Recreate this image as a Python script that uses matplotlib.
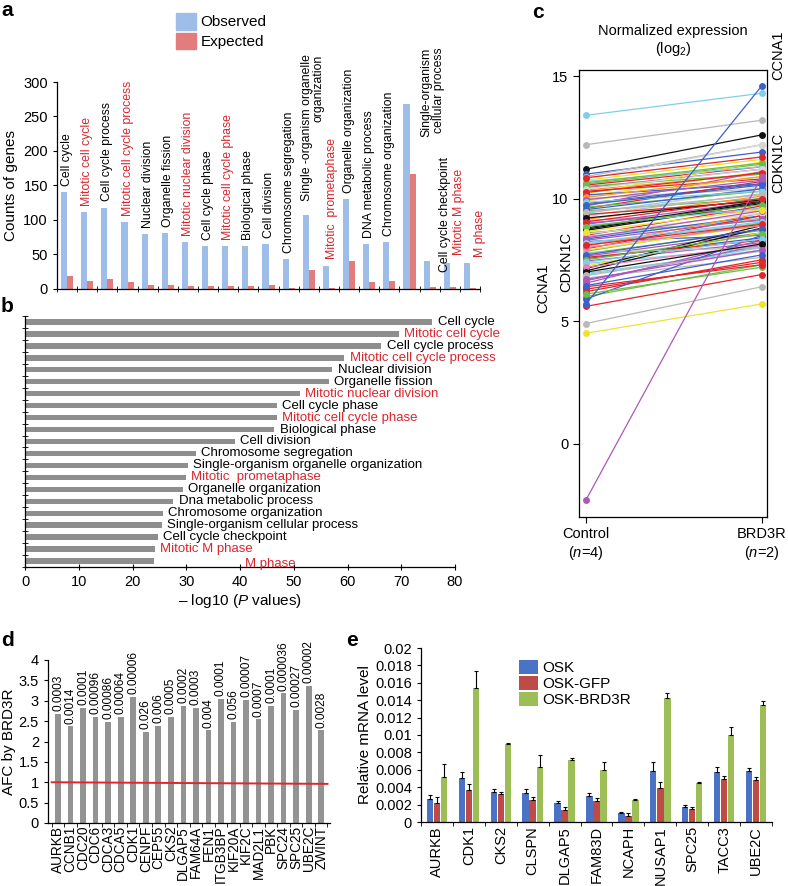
import matplotlib
matplotlib.use('Agg')
import matplotlib.pyplot as plt
from matplotlib.patches import Patch
from matplotlib.ticker import FuncFormatter
import numpy as np

plt.rcParams['font.family'] = ['Liberation Sans', 'DejaVu Sans']
plt.rcParams['mathtext.fontset'] = 'custom'
plt.rcParams['mathtext.rm'] = 'Liberation Sans'
plt.rcParams['mathtext.it'] = 'Liberation Sans:italic'
plt.rcParams['axes.linewidth'] = 0.9

W, H = 788, 886

# ---------------- data ----------------
# panel a / b : GO terms
go_terms_a = ['Cell cycle', 'Mitotic cell cycle', 'Cell cycle process', 'Mitotic cell cycle process',
              'Nuclear division', 'Organelle fission', 'Mitotic nuclear division', 'Cell cycle phase',
              'Mitotic cell cycle phase', 'Biological phase', 'Cell division', 'Chromosome segregation',
              'Single -organism organelle\norganization', 'Mitotic  prometaphase', 'Organelle organization',
              'DNA metabolic process', 'Chromosome organization', 'Single-organism\ncellular process',
              'Cell cycle checkpoint', 'Mitotic M phase', 'M phase']
go_terms_b = ['Cell cycle', 'Mitotic cell cycle', 'Cell cycle process', 'Mitotic cell cycle process',
              'Nuclear division', 'Organelle fission', 'Mitotic nuclear division', 'Cell cycle phase',
              'Mitotic cell cycle phase', 'Biological phase', 'Cell division', 'Chromosome segregation',
              'Single-organism organelle organization', 'Mitotic  prometaphase', 'Organelle organization',
              'Dna metabolic process', 'Chromosome organization', 'Single-organism cellular process',
              'Cell cycle checkpoint', 'Mitotic M phase', 'M phase']
is_mitotic = [0, 1, 0, 1, 0, 0, 1, 0, 1, 0, 0, 0, 0, 1, 0, 0, 0, 0, 0, 1, 1]
observed = [140, 111, 118, 97, 80, 81, 68, 62, 62, 62, 65, 43, 107, 34, 130, 65, 68, 268, 40, 38, 38]
expected = [19, 11, 14, 10, 6, 6, 4, 4, 4, 4, 6, 2, 27, 1, 40, 10, 12, 167, 3, 3, 2]
neglog_p = [75.8, 69.5, 66.3, 59.4, 57.2, 56.5, 51.1, 46.8, 46.8, 46.4, 39.0, 31.8, 30.3, 29.9,
            29.4, 27.6, 25.6, 25.4, 24.7, 24.2, 24.0]

# panel c : normalized expression (log2), control vs BRD3R
c_control = [13.4, 12.2, 11.2, 11.0, 10.9, 10.8, 10.6, 10.55, 10.45, 10.35, 10.2, 10.1, 10.0, 10.5,
             10.3, 9.8, 9.7, 9.6, 9.5, 9.4, 9.3, 9.25, 9.1, 9.0, 8.95, 8.8, 8.7, 8.6, 8.5, 8.45,
             8.35, 8.25, 8.15, 8.05, 7.95, 7.85, 7.75, 7.65, 7.55, 7.45, 7.35, 7.25, 7.15, 7.05,
             6.95, 6.85, 6.75, 6.65, 6.55, 6.3, 6.2, 6.0, 5.9, 5.6, 4.9, 4.5, 8.75, 9.9, 9.15,
             8.9, 9.35, 9.65, 9.55, 8.55, 7.9, 8.4, 7.6, 6.1, 10.7, 7.8, 8.0, 10.15, 6.4,
             10.75, 10.65, 10.4, 10.25, 10.05, 9.95, 9.85, 9.75, 9.45, 9.2, 9.05, 8.85, 8.65,
             8.3, 8.2, 8.1, 7.7, 7.5, 7.4, 7.2, 7.0, 6.9, 6.7, 6.45, 10.85,
             5.7, -2.3]
c_brd3r = [14.3, 13.2, 12.6, 11.9, 12.2, 12.2, 11.4, 11.3, 11.2, 11.0, 11.5, 11.1, 10.4, 11.0,
           10.8, 10.6, 11.1, 10.7, 10.0, 10.4, 10.2, 10.5, 9.5, 9.6, 9.9, 9.9, 9.8, 9.1, 9.7, 9.2,
           9.3, 8.5, 9.0, 9.4, 9.3, 9.0, 8.7, 8.6, 8.4, 8.2, 8.0, 8.6, 8.9, 8.8,
           7.9, 8.0, 7.6, 8.1, 8.3, 7.4, 7.5, 7.3, 8.5, 6.9, 6.4, 5.7, 9.85, 10.9, 10.1,
           9.6, 9.9, 10.3, 10.4, 9.4, 8.9, 9.5, 8.3, 7.2, 11.3, 8.0, 8.9, 10.6, 7.3,
           11.6, 11.45, 11.2, 11.05, 10.9, 10.75, 10.3, 10.55, 10.15, 9.95, 10.0, 9.75, 9.55,
           9.15, 9.05, 8.95, 8.75, 8.55, 8.35, 8.1, 8.15, 7.85, 7.9, 7.7, 11.7,
           14.6, 10.9]
c_color_keys = ['c', 'gr', 'k', 'b', 'gr', 'lg', 'g', 'r', 'm', 'o', 'y', 'y', 'gr', 'g',
                'r', 'b', 'm', 'r', 'g', 'c', 'gr', 'lg', 'p', 'm', 'm', 'k', 'k', 'g', 'r', 'c',
                'b', 'b', 'c', 'o', 'r', 'g', 'g', 'm', 'b', 'm', 'c', 'y', 'k', 'k',
                'c', 'c', 'gr', 'm', 'm', 'r', 'r', 'g', 'b', 'r', 'gr', 'y', 'k', 'y', 'o',
                'c', 'r', 'g', 'b', 'lg', 'y', 'm', 'r', 'g', 'c', 'gr', 'p', 'b', 'r',
                'y', 'g', 'lg', 'r', 'o', 'm', 'c', 'b', 'gr', 'k', 'r', 'g', 'y',
                'm', 'c', 'r', 'b', 'g', 'c', 'p', 'k', 'gr', 'm', 'b', 'r',
                'b', 'm']
c_groups = ['Control\n($\\it{n}$=4)', 'BRD3R\n($\\it{n}$=2)']

# panel d : AFC by BRD3R
d_genes = ['AURKB', 'CCNB1', 'CDC20', 'CDC6', 'CDCA3', 'CDCA5', 'CDK1', 'CENPF', 'CEP55', 'CKS2',
           'DLGAP5', 'FAM64A', 'FEN1', 'ITGB3BP', 'KIF20A', 'KIF2C', 'MAD2L1', 'PBK', 'SPC24',
           'SPC25', 'UBE2C', 'ZWINT']
d_afc = [2.67, 2.37, 2.82, 2.60, 2.47, 2.61, 3.10, 2.23, 2.39, 2.60, 2.87, 2.82, 2.27, 3.04,
         2.49, 3.01, 2.54, 2.88, 3.18, 2.78, 3.36, 2.27]
d_pvals = ['0.0003', '0.0014', '0.0001', '0.00096', '0.00086', '0.00064', '0.00006', '0.026',
           '0.006', '0.0005', '0.0002', '0.0003', '0.004', '0.0001', '0.056', '0.00007', '0.0007',
           '0.0001', '0.000036', '0.00027', '0.00002', '0.0028']
d_ref_line = [1.0, 0.96]

# panel e : relative mRNA level
e_genes = ['AURKB', 'CDK1', 'CKS2', 'CLSPN', 'DLGAP5', 'FAM83D', 'NCAPH', 'NUSAP1', 'SPC25',
           'TACC3', 'UBE2C']
e_osk = [0.0026, 0.0051, 0.0034, 0.0033, 0.0022, 0.0030, 0.0010, 0.0059, 0.0017, 0.0058, 0.0059]
e_osk_err = [0.0005, 0.0007, 0.0004, 0.0005, 0.0002, 0.0003, 0.0002, 0.0010, 0.0002, 0.0005, 0.0003]
e_gfp = [0.0022, 0.0037, 0.0032, 0.0025, 0.0014, 0.0024, 0.0007, 0.0039, 0.0015, 0.0049, 0.0048]
e_gfp_err = [0.0007, 0.0007, 0.0003, 0.0004, 0.0003, 0.0004, 0.0003, 0.0007, 0.0002, 0.0004, 0.0004]
e_brd = [0.0052, 0.0154, 0.0090, 0.0063, 0.0071, 0.0060, 0.0025, 0.0142, 0.0045, 0.0100, 0.0134]
e_brd_err = [0.00145, 0.0019, 0.0001, 0.0014, 0.0003, 0.0009, 0.0002, 0.0006, 0.0001, 0.0009, 0.0005]

# ---------------- styling ----------------
RED_TXT = '#d8262e'
OBS_COL = '#9fbde9'
EXP_COL = '#e37d7c'
palette = {'k': '#111111', 'r': '#e3242b', 'g': '#6cbd45', 'b': '#3d5fc8', 'c': '#80cfe6',
           'm': '#ad58b8', 'y': '#efe22f', 'gr': '#b9b9b9', 'lg': '#d6d6d6', 'o': '#f29a33',
           'p': '#e87fb2'}


def px_rect(left, top, right, bottom):
    return [left / W, 1 - bottom / H, (right - left) / W, (bottom - top) / H]


def panel_letter(fig, x, y, s):
    fig.text(x / W, 1 - y / H, s, fontsize=15, fontweight='bold', ha='left', va='center')


fig = plt.figure(figsize=(W / 100, H / 100), dpi=100)

# ---------------- panel a ----------------
ax = fig.add_axes(px_rect(57, 82, 480, 289))
xa = np.arange(len(go_terms_a))
ax.bar(xa - 0.15, observed, width=0.3, color=OBS_COL, edgecolor='none')
ax.bar(xa + 0.15, expected, width=0.3, color=EXP_COL, edgecolor='none')
ax.set_xlim(-0.5, len(go_terms_a) - 0.5)
ax.set_ylim(0, 300)
ax.set_yticks(range(0, 301, 50))
ax.set_xticks([])
ax.set_xticks(np.arange(len(go_terms_a) + 1) - 0.5, minor=True)
ax.tick_params(axis='x', which='minor', direction='inout', length=4)
ax.tick_params(axis='y', labelsize=10.5, length=3)
ax.spines[['top', 'right']].set_visible(False)
ax.set_ylabel('Counts of genes', fontsize=11)
label_shift = {12: (0.2, 127), 13: (0.15, 43), 17: (1.15, 220), 18: (0.75, 25),
               19: (0.45, 49), 20: (0.5, 46)}
for i, term in enumerate(go_terms_a):
    dx, base = label_shift.get(i, (0, observed[i] + 9))
    ax.text(i + dx, base, term, rotation=90, ha='center', va='bottom', fontsize=8.8,
            multialignment='right', color=RED_TXT if is_mitotic[i] else 'black',
            linespacing=1.0, clip_on=False)
fig.legend(handles=[Patch(color=OBS_COL, label='Observed'), Patch(color=EXP_COL, label='Expected')],
           loc='upper left', bbox_to_anchor=(176 / W, 1 - 13 / H), frameon=False, fontsize=11,
           handlelength=1.3, handleheight=1.3, labelspacing=0.2, handletextpad=0.3,
           borderpad=0, borderaxespad=0)

# ---------------- panel b ----------------
ax = fig.add_axes(px_rect(25, 316, 455, 567))
yb = np.arange(len(go_terms_b))
ax.barh(yb, neglog_p, height=0.45, color='#8e8e8e', edgecolor='none')
ax.set_ylim(len(go_terms_b) - 0.5, -0.42)
ax.set_xlim(0, 80)
ax.set_xticks(range(0, 81, 10))
ax.set_yticks([])
ax.set_yticks(np.arange(len(go_terms_b) + 1) - 0.5, minor=True)
ax.tick_params(axis='y', which='minor', direction='inout', length=4)
ax.tick_params(axis='x', direction='inout', length=5, labelsize=10.5)
ax.spines[['top', 'right']].set_visible(False)
ax.set_xlabel('\u2013 log10 ($\\it{P}$ values)', fontsize=11, labelpad=2)
for i, term in enumerate(go_terms_b):
    if i == len(go_terms_b) - 1:
        tx, ty = 41.0, i + 0.25
    else:
        tx, ty = neglog_p[i] + 1.0, i
    ax.text(tx, ty, term, va='center', ha='left', fontsize=9.5,
            color=RED_TXT if is_mitotic[i] else 'black')

# ---------------- panel c ----------------
ax = fig.add_axes(px_rect(579, 70, 767, 517))
for lo, hi, key in zip(c_control, c_brd3r, c_color_keys):
    ax.plot([0, 1], [lo, hi], '-o', color=palette[key], lw=0.9, ms=5, mew=0)
ax.set_xlim(-0.04, 1.03)
ax.set_ylim(-3, 15.25)
ax.set_yticks([0, 5, 10, 15])
ax.set_xticks([0, 1])
ax.set_xticklabels(c_groups, fontsize=10.5)
ax.tick_params(labelsize=10.5, length=4)
ax.set_title('Normalized expression\n(log$_2$)', fontsize=10.5, pad=12)
fig.text(778 / W, 1 - 55 / H, 'CCNA1', rotation=90, ha='center', va='center', fontsize=10.5)
fig.text(778 / W, 1 - 163 / H, 'CDKN1C', rotation=90, ha='center', va='center', fontsize=10.5)
fig.text(543 / W, 1 - 288 / H, 'CCNA1', rotation=90, ha='center', va='center', fontsize=10.5)
fig.text(566 / W, 1 - 262 / H, 'CDKN1C', rotation=90, ha='center', va='center', fontsize=10.5)

# ---------------- panel d ----------------
ax = fig.add_axes(px_rect(48, 660, 330, 823))
xd = np.arange(len(d_genes))
ax.bar(xd, d_afc, width=0.45, color='#939393', edgecolor='none')
ax.plot([-0.5, len(d_genes) - 0.5], d_ref_line, color='#e0262b', lw=1.4)
ax.set_xlim(-0.8, len(d_genes) - 0.3)
ax.set_ylim(0, 4)
ax.set_yticks(np.arange(0, 4.01, 0.5))
ax.yaxis.set_major_formatter(FuncFormatter(lambda v, p: f'{v:g}'))
ax.set_xticks(xd)
ax.set_xticklabels(d_genes, rotation=90, fontsize=9.8)
ax.set_xticks(np.arange(len(d_genes) + 1) - 0.5, minor=True)
ax.tick_params(axis='x', which='major', length=0, pad=2)
ax.tick_params(axis='x', which='minor', length=3)
ax.tick_params(axis='y', labelsize=10.5, length=3)
ax.spines[['top', 'right']].set_visible(False)
ax.set_ylabel('AFC by BRD3R', fontsize=11)
ax.yaxis.set_label_coords(-0.115, 0.5)
for i, p in enumerate(d_pvals):
    ax.text(i, d_afc[i] + 0.07, p, rotation=90, ha='center', va='bottom', fontsize=8.6,
            clip_on=False)

# ---------------- panel e ----------------
ax = fig.add_axes(px_rect(421, 648, 772, 822))
xe = np.arange(len(e_genes))
bw = 0.2
err_kw = dict(ecolor='black', elinewidth=0.8, capsize=1.5, capthick=0.8)
zeros = np.zeros(len(e_genes))
ax.bar(xe - 0.22, e_osk, bw, yerr=[zeros, e_osk_err], color='#4a73c6', error_kw=err_kw, label='OSK')
ax.bar(xe, e_gfp, bw, yerr=[zeros, e_gfp_err], color='#bf4b48', error_kw=err_kw, label='OSK-GFP')
ax.bar(xe + 0.22, e_brd, bw, yerr=[zeros, e_brd_err], color='#9dbd57', error_kw=err_kw,
       label='OSK-BRD3R')
ax.set_xlim(-0.5, len(e_genes) - 0.5)
ax.set_ylim(0, 0.02)
ax.set_yticks(np.arange(0, 0.0201, 0.002))
ax.yaxis.set_major_formatter(FuncFormatter(lambda v, p: f'{v:.3f}'.rstrip('0').rstrip('.')))
ax.set_xticks(xe)
ax.set_xticklabels(e_genes, rotation=90, fontsize=10.5)
ax.set_xticks(np.arange(len(e_genes) + 1) - 0.5, minor=True)
ax.tick_params(axis='x', which='major', length=0, pad=3)
ax.tick_params(axis='x', which='minor', length=3)
ax.tick_params(axis='y', labelsize=10.5, length=3)
ax.spines[['top', 'right']].set_visible(False)
ax.set_ylabel('Relative mRNA level', fontsize=11)
ax.yaxis.set_label_coords(-0.14, 0.5)
ax.legend(loc='upper left', bbox_to_anchor=(0.28, 0.93), frameon=False, fontsize=11,
          handlelength=1.2, handleheight=1.0, labelspacing=0.05, handletextpad=0.3,
          borderpad=0, borderaxespad=0)

panel_letter(fig, 1, 10, 'a')
panel_letter(fig, 1, 306, 'b')
panel_letter(fig, 532, 12, 'c')
panel_letter(fig, 1, 640, 'd')
panel_letter(fig, 346, 641, 'e')

fig.savefig('out.png', dpi=100)
